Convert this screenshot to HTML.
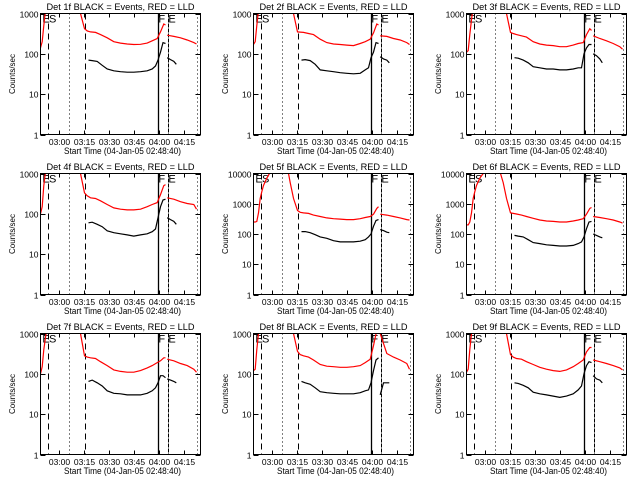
<!DOCTYPE html>
<html><head><meta charset="utf-8"><style>
html,body{margin:0;padding:0;background:#fff;}
svg{display:block;font-family:"Liberation Sans",sans-serif;}
</style></head><body>
<svg id="chart" width="640" height="480" viewBox="0 0 640 480" xmlns="http://www.w3.org/2000/svg">
<rect x="0" y="0" width="640" height="480" fill="#fff"/>
</svg>
<script>
// Time (minutes since 02:48:40); null = gap
const TR = [0,1,2,3,4,5,6,8,10,12,20,22,24,26.4,28,30,33,36,40,44,48,52,56,60,64,67,70,72,74,75,null,76,80,84,88,92,93.6];
const TB = [28.8,31,34,37,40,44,48,52,56,60,64,67,69,70.5,72,73.5,75,null,76,78,80,81.5];
const X_TICKS = [11.333,26.333,41.333,56.333,71.333,86.333];
const X_TICK_LABELS = ["03:00","03:15","03:30","03:45","04:00","04:15"];
const MARKERS = [4.6,16.8,26.4,70.2,76.2,93.6];
const DETS = ["1f","2f","3f","4f","5f","6f","7f","8f","9f"];
const DECADES = [3,3,3,3,4,4,3,3,3];
const red1=[140,200,500,1200,3000,5000,9999,9999,9999,9999,9999,3000,1000,420,370,350,340,300,250,200,185,175,170,172,185,210,240,350,550,520,null,290,270,250,220,190,175];
const red2=[170,200,500,1200,3000,5000,9999,9999,9999,9999,9999,3000,1000,350,345,340,320,300,230,190,175,170,165,160,180,200,230,330,550,520,null,280,270,240,220,190,170];
const red3=[110,120,300,700,1500,5000,9999,9999,9999,9999,9999,3000,1000,340,320,300,280,260,200,175,165,160,150,150,165,180,190,300,420,380,null,280,240,210,180,150,130];
const red4=[100,150,500,1100,3000,5000,9999,9999,9999,9999,9999,3000,1000,330,280,250,240,210,170,140,130,125,125,130,150,170,190,300,500,530,null,250,230,200,180,170,130];
const red5=[250,250,260,500,1500,2500,4000,7000,11000,20000,20000,5000,1500,600,520,500,480,420,380,340,320,310,300,300,320,350,380,450,700,800,null,450,420,380,340,300,290];
const red6=[200,200,250,500,1500,2500,4000,7000,10000,12000,12000,5000,1500,500,480,460,420,380,330,290,270,260,250,250,270,290,320,450,700,750,null,380,350,320,290,250,230];
const red7=[100,150,400,800,1500,5000,9999,9999,9999,9999,9999,3000,1000,280,260,250,240,200,160,125,115,110,110,120,140,160,190,210,250,250,null,230,210,180,160,130,110];
const red8=[120,130,400,1000,3000,5000,9999,9999,9999,9999,9999,3000,1000,360,300,280,260,220,170,155,150,145,145,150,160,190,230,500,1200,1500,null,1000,320,260,220,180,130];
const red9=[110,130,400,1000,3000,5000,9999,9999,9999,9999,9999,3000,1000,300,260,240,230,200,170,145,130,120,115,125,150,180,220,350,450,450,null,220,200,180,160,140,125];
const blk1=[70,68,65,52,42,38,36,35,35,36,38,42,50,70,110,190,180,null,80,72,65,55];
const blk2=[70,72,68,55,40,38,36,34,33,32,33,40,45,80,110,190,180,null,85,75,70,60];
const blk3=[80,78,70,60,48,45,42,42,40,40,42,45,45,100,140,170,170,null,100,90,75,60];
const blk4=[60,62,55,48,38,34,32,30,28,30,32,36,42,80,150,220,230,null,80,72,65,55];
const blk5=[120,120,110,95,80,72,60,55,55,55,58,65,80,100,180,280,300,null,140,130,115,110];
const blk6=[90,85,80,65,52,48,44,42,40,40,42,48,55,80,150,250,260,null,100,90,80,75];
const blk7=[65,70,60,50,38,33,32,30,30,30,33,38,45,60,90,90,80,null,75,70,65,60];
const blk8=[65,60,55,45,36,34,33,32,32,32,34,38,40,60,120,220,250,null,30,60,60,60];
const blk9=[60,58,52,45,35,32,30,28,26,28,32,40,50,100,160,200,190,null,90,75,70,60];
const REDS=[red1,red2,red3,red4,red5,red6,red7,red8,red9];
const BLKS=[blk1,blk2,blk3,blk4,blk5,blk6,blk7,blk8,blk9];

const NS="http://www.w3.org/2000/svg";
const svg=document.getElementById('chart');
function mk(tag,attrs,parent){const e=document.createElementNS(NS,tag);for(const k in attrs)e.setAttribute(k,attrs[k]);(parent||svg).appendChild(e);return e;}

for(let p=0;p<9;p++){
  const ox=(p%3)*213, oy=Math.floor(p/3)*160;
  const L=ox+40.5,R=ox+200.5,T=oy+13.5,B=oy+134.5;
  const dec=DECADES[p];
  const xs=t=>L+t*(R-L)/96;
  const ys=v=>B-Math.log10(v)/dec*(B-T);
  const g=mk('g',{});
  
  
  const cp=mk('clipPath',{id:'c'+p},g);
  mk('rect',{x:L,y:T,width:R-L,height:B-T},cp);
  const title=mk('text',{x:(L+R)/2,y:oy+10,'font-size':9.5,'text-anchor':'middle',textLength:148,lengthAdjust:'spacingAndGlyphs'},g);
  title.textContent='Det '+DETS[p]+' BLACK = Events, RED = LLD';
  
  
  const yt=mk('text',{x:ox+15,y:(T+B)/2,'font-size':8,'text-anchor':'middle',transform:'rotate(-90 '+(ox+15)+' '+((T+B)/2)+')'},g);
  yt.textContent='Counts/sec';
  
  
  const xt=mk('text',{x:(L+R)/2+2,y:oy+154,'font-size':9,'text-anchor':'middle',textLength:117,lengthAdjust:'spacingAndGlyphs'},g);
  xt.textContent='Start Time (04-Jan-05 02:48:40)';
  
  
  for(let d=0;d<=dec;d++){
    const v=Math.pow(10,d),y=Math.round(ys(v))+0.5;
    mk('line',{x1:L,x2:L+5,y1:y,y2:y,stroke:'#000','stroke-width':1},g);
    mk('line',{x1:R,x2:R-5,y1:y,y2:y,stroke:'#000','stroke-width':1},g);
    const tl=mk('text',{x:L-2,y:y+3,'font-size':8.5,'text-anchor':'end'},g);
    tl.textContent=String(v);
    
    
  }
  X_TICKS.forEach((t,i)=>{
    const x=Math.round(xs(t))+0.5;
    mk('line',{x1:x,x2:x,y1:B,y2:B-4,stroke:'#000'},g);
    mk('line',{x1:x,x2:x,y1:T,y2:T+4,stroke:'#000'},g);
    const tl=mk('text',{x:x,y:oy+145,'font-size':8.5,'text-anchor':'middle'},g);
    tl.textContent=X_TICK_LABELS[i];
    
    
  });
  const styles=['6,4','1,3','6,4',null,'4,1','1,3'];
  MARKERS.forEach((t,i)=>{
    const x=Math.round(xs(t))+0.5;
    const a={x1:x,x2:x,y1:T,y2:B,stroke:'#000','stroke-width':i==3?1.3:1};
    if(styles[i])a['stroke-dasharray']=styles[i];
    const ln=mk('line',a,g);
    
    
  });
  [['E',MARKERS[0]-3.5],['S',MARKERS[0]+0.5],['F',MARKERS[3]+0.5],['E',MARKERS[4]+0.5]].forEach(([s,t])=>{
    const tx=mk('text',{x:xs(t),y:T+9,'font-size':11},g);
    tx.textContent=s;
    
    
  });
  function path(ts,vs,color,name){
    let d='',pen=false;
    for(let i=0;i<ts.length;i++){
      if(ts[i]===null||vs[i]===null){pen=false;continue;}
      d+=(pen?'L':'M')+xs(ts[i]).toFixed(1)+','+ys(vs[i]).toFixed(1);pen=true;
    }
    const pa=mk('path',{d:d,fill:'none',stroke:color,'stroke-width':1.2,'clip-path':'url(#c'+p+')'},g);
    
    
  }
  path(TR,REDS[p],'#ff0000','lld-series');
  path(TB,BLKS[p],'#000000','events-series');
  const fr=mk('rect',{x:L,y:T,width:R-L,height:B-T,fill:'none',stroke:'#000','stroke-width':1},g);
  
  
}
</script>
</body></html>
